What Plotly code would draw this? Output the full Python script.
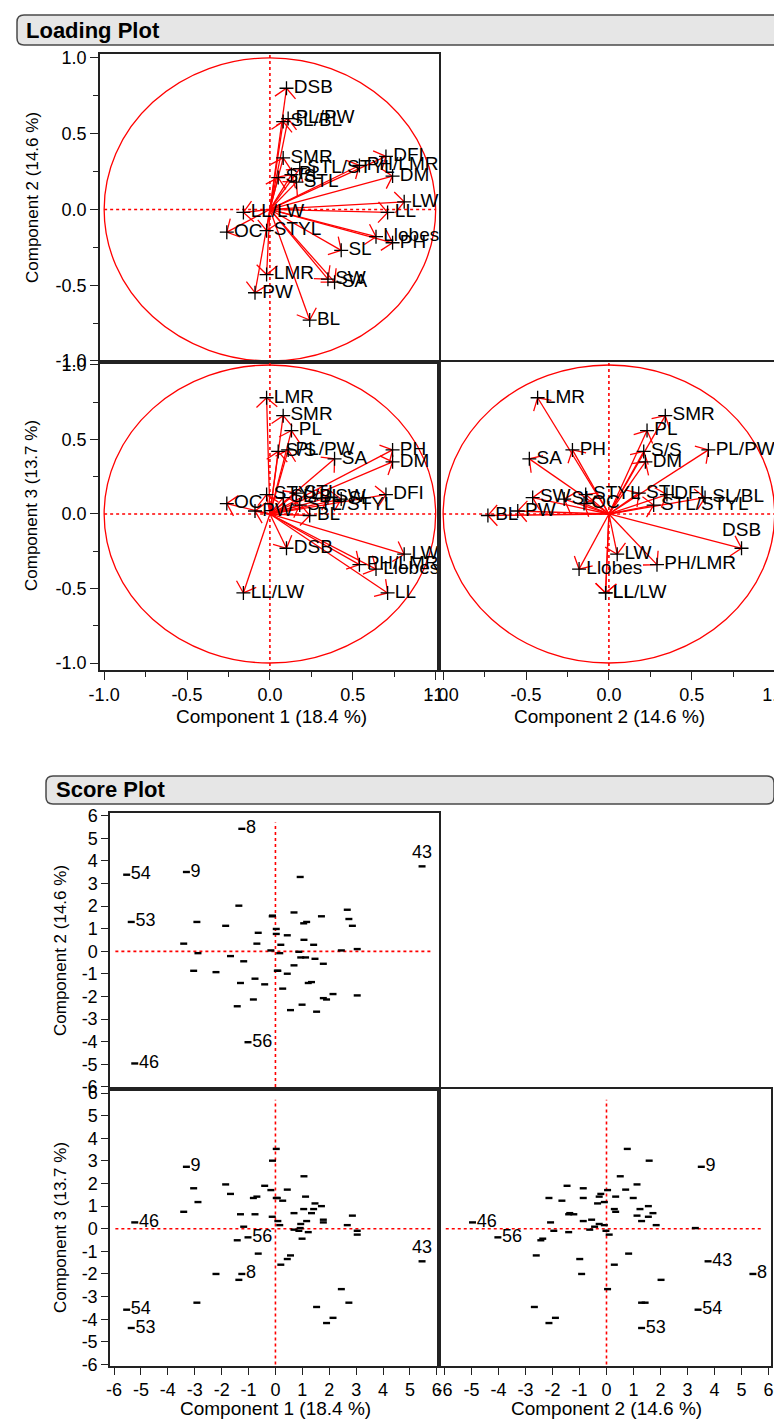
import numpy as np
import plotly.graph_objects as go

W, H = 782, 1419
FONT = "Liberation Sans, Arial, sans-serif"

# ---------------- Loading data ----------------
var_names = ["DSB", "PL/PW", "SL/BL", "SMR", "PL", "S/S", "STL", "STL/STYL", "DFI", "PH/LMR",
             "DM", "LW", "LL", "Llobes", "PH", "SL", "SW", "SA", "LMR", "PW", "BL", "LL/LW",
             "OC", "STYL"]
comp1 = [0.10, 0.11, 0.08, 0.08, 0.13, 0.05, 0.16, 0.18, 0.70, 0.54,
         0.74, 0.81, 0.71, 0.64, 0.74, 0.43, 0.35, 0.39, -0.02, -0.09, 0.24, -0.16,
         -0.26, -0.02]
comp2 = [0.80, 0.60, 0.58, 0.34, 0.23, 0.21, 0.18, 0.27, 0.35, 0.29,
         0.22, 0.05, -0.02, -0.18, -0.22, -0.27, -0.46, -0.48, -0.43, -0.55, -0.73, -0.02,
         -0.15, -0.14]
comp3 = [-0.23, 0.43, 0.11, 0.66, 0.56, 0.42, 0.14, 0.06, 0.13, -0.34,
         0.35, -0.27, -0.53, -0.37, 0.43, 0.10, 0.11, 0.37, 0.78, 0.02, -0.01, -0.53,
         0.07, 0.13]

# ---------------- Score data ----------------
score1 = [-3.41, -3.04, -2.92, -2.88, -2.21, -1.85, -1.67, -1.42, -1.36, -1.30,
          -1.18, -0.82, -0.76, -0.69, -0.64, -0.40, -0.17, -0.12, -0.11, 0.03,
          0.03, 0.09, 0.07, 0.16, 0.20, 0.27, 0.44, 0.44, 0.56, 0.69,
          0.69, 0.87, 0.92, 0.94, 0.99, 1.05, 1.06, 1.12, 1.16, 1.22,
          1.34, 1.42, 1.47, 1.53, 1.71, 1.78, 1.78, 1.90, 2.14, 2.45,
          2.67, 2.73, 2.86, 3.04, 3.04,
          -1.25, -3.31, 5.45, -5.23, -5.36, -5.53, -1.02]
score2 = [0.34, -0.86, 1.30, -0.08, -0.92, 1.13, -0.21, -2.43, 2.02, -1.40,
          -0.44, -2.13, -1.21, 0.34, 0.82, -1.46, 0.04, 1.55, 1.58, 0.99,
          0.77, -0.86, -0.86, -0.08, 0.29, -1.65, 0.71, -0.99, -2.60, 1.72,
          -0.62, -0.02, 3.29, -0.27, -2.36, 1.24, 0.51, -0.27, 1.30, -1.40,
          -1.36, 0.29, -0.33, -2.67, 1.55, -0.55, -2.07, -2.13, -1.89, 0.04,
          1.84, 1.43, 1.13, 0.10, -1.95,
          5.42, 3.51, 3.76, -4.96, 1.30, 3.39, -4.02]
score3 = [0.75, 1.79, -3.27, 1.18, -2.00, 1.96, 1.54, -0.51, -2.26, 0.64,
          0.09, 1.36, 0.64, 1.42, -1.10, 1.90, 1.71, 0.53, 3.01, 1.36,
          3.53, 0.34, 1.36, 0.16, -1.59, 1.24, 1.73, -1.34, -1.18, 0.69,
          -0.04, -0.09, 0.03, 0.21, -0.44, 0.87, 2.32, 1.42, 0.34, -0.15,
          0.69, 0.87, 1.12, -3.46, 1.00, 0.40, 0.28, -4.17, -3.94, -2.67,
          0.16, -3.27, 0.58, -0.26, -0.09,
          -2.00, 2.74, -1.44, 0.28, -4.39, -3.58, -0.38]
obs_labels = [""] * 55 + ["8", "9", "43", "46", "53", "54", "56"]

load_ticks = [-1.0, -0.5, 0.0, 0.5, 1.0]
load_ticktext = ["-1.0", "-0.5", "0.0", "0.5", "1.0"]
load_minor = [-0.75, -0.25, 0.25, 0.75]
score_ticks = list(range(-6, 7))
score_ticktext = [str(v) for v in score_ticks]

# ---------------- Geometry (pixels) ----------------
LXL, LXR = (92, 431), (431, 770)
LYT, LYB = (46, 354), (354, 662)
SXL, SXR = (102, 431), (431, 763)
SYT, SYB = (805, 1081), (1081, 1358)
L_xr = [-1.025, 1.02]
L_ytr = [-1.007, 1.026]
L_ybr = [-1.047, 1.02]
S_xlr = [-6.15, 6.08]
S_xrr = [-6.2, 6.09]
S_ytr = [-6.09, 6.12]
S_ybr = [-6.07, 6.18]


def axis(dom_px, rng, horizontal, anchor, ticks_on, tickvals=None, ticktext=None,
         minor_vals=None, ticklen=8):
    if horizontal:
        dom = [dom_px[0] / W, dom_px[1] / W]
    else:
        dom = [1 - dom_px[1] / H, 1 - dom_px[0] / H]
    d = dict(domain=dom, range=rng, anchor=anchor, showgrid=False, zeroline=False,
             showline=True, linecolor="#222", linewidth=1.5, mirror=True, fixedrange=True,
             automargin=False)
    if ticks_on:
        d.update(ticks="outside", ticklen=ticklen, tickwidth=1.3, tickcolor="#222",
                 tickmode="array", tickvals=tickvals, ticktext=ticktext,
                 tickfont=dict(family=FONT, size=18, color="black"))
        if minor_vals:
            d["minor"] = dict(tickmode="array", tickvals=minor_vals, ticks="outside",
                              ticklen=5, tickwidth=1.3, tickcolor="#222")
    else:
        d.update(ticks="", showticklabels=False)
    return d


def scale(dom_px, rng):
    return (dom_px[1] - dom_px[0]) / (rng[1] - rng[0])


def arrows(xs, ys, sx, sy, head=14.0, ang=np.radians(48)):
    X, Y = [], []
    for x, y in zip(xs, ys):
        X += [0, x, None]
        Y += [0, y, None]
        dx, dy = x * sx, y * sy
        L = np.hypot(dx, dy)
        ux, uy = -dx / L, -dy / L
        ends = []
        for a in (ang, -ang):
            bx = ux * np.cos(a) - uy * np.sin(a)
            by = ux * np.sin(a) + uy * np.cos(a)
            ends.append((x + bx * head / sx, y + by * head / sy))
        X += [ends[0][0], x, ends[1][0], None]
        Y += [ends[0][1], y, ends[1][1], None]
    return X, Y


fig = go.Figure()

RED = "#ff0000"
load_panels = [
    (comp1, comp2, "x", "y", LXL, L_xr, LYT, L_ytr, False),
    (comp1, comp3, "x2", "y2", LXL, L_xr, LYB, L_ybr, False),
    (comp2, comp3, "x3", "y3", LXR, L_xr, LYB, L_ybr, True),
]
for xs, ys, xa, ya, xd, xr, yd, yr, _ in load_panels:
    sx, sy = scale(xd, xr), scale(yd, yr)
    AX, AY = arrows(xs, ys, sx, sy)
    fig.add_trace(go.Scatter(x=AX, y=AY, xaxis=xa, yaxis=ya, mode="lines",
                             line=dict(color=RED, width=1.3), hoverinfo="skip",
                             showlegend=False, cliponaxis=True))
for xs, ys, xa, ya, xd, xr, yd, yr, right_panel in load_panels:
    pos = ["top center" if (right_panel and n == "DSB") else "middle right" for n in var_names]
    fig.add_trace(go.Scatter(x=xs, y=ys, xaxis=xa, yaxis=ya, mode="markers+text",
                             text=var_names, textposition=pos,
                             textfont=dict(family=FONT, size=19, color="black"),
                             marker=dict(symbol="cross-thin", size=10,
                                         line=dict(width=1.3, color="black")),
                             showlegend=False, cliponaxis=False))

score_panels = [
    (score1, score2, "x4", "y4", True),
    (score1, score3, "x5", "y5", True),
    (score2, score3, "x6", "y6", False),
]
for xs, ys, xa, ya, top43 in score_panels:
    pos = ["top center" if (lab == "43" and top43) else "middle right" for lab in obs_labels]
    fig.add_trace(go.Scatter(x=xs, y=ys, xaxis=xa, yaxis=ya, mode="markers+text",
                             text=obs_labels, textposition=pos,
                             textfont=dict(family=FONT, size=18, color="black"),
                             marker=dict(symbol="line-ew", size=5,
                                         line=dict(width=2.4, color="black")),
                             showlegend=False, cliponaxis=False))

layout = dict(
    width=W, height=H, margin=dict(l=0, r=0, t=0, b=0, pad=0, autoexpand=False),
    paper_bgcolor="white", plot_bgcolor="white", showlegend=False,
    xaxis=axis(LXL, L_xr, True, "y", False),
    yaxis=axis(LYT, L_ytr, False, "x", True, load_ticks, load_ticktext, load_minor),
    xaxis2=axis(LXL, L_xr, True, "y2", True, load_ticks, load_ticktext, load_minor),
    yaxis2=axis(LYB, L_ybr, False, "x2", True, load_ticks, load_ticktext, load_minor),
    xaxis3=axis(LXR, L_xr, True, "y3", True, load_ticks, load_ticktext, load_minor),
    yaxis3=axis(LYB, L_ybr, False, "x3", False),
    xaxis4=axis(SXL, S_xlr, True, "y4", False),
    yaxis4=axis(SYT, S_ytr, False, "x4", True, score_ticks, score_ticktext, ticklen=7),
    xaxis5=axis(SXL, S_xlr, True, "y5", True, score_ticks, score_ticktext, ticklen=7),
    yaxis5=axis(SYB, S_ybr, False, "x5", True, score_ticks, score_ticktext, ticklen=7),
    xaxis6=axis(SXR, S_xrr, True, "y6", True, score_ticks, score_ticktext, ticklen=7),
    yaxis6=axis(SYB, S_ybr, False, "x6", False),
)

shapes = []
dot = dict(color=RED, width=1.6, dash="dot")
for xa, ya in (("x", "y"), ("x2", "y2"), ("x3", "y3")):
    shapes.append(dict(type="circle", xref=xa, yref=ya, x0=-1, x1=1, y0=-1, y1=1,
                       line=dict(color=RED, width=1.3), layer="below"))
    shapes.append(dict(type="line", xref=xa, yref=ya, x0=-1, x1=1, y0=0, y1=0,
                       line=dot, layer="below"))
    shapes.append(dict(type="line", xref=xa, yref=ya, x0=0, x1=0, y0=-1.1, y1=1.1,
                       line=dot, layer="below"))
for xa, ya in (("x4", "y4"), ("x5", "y5"), ("x6", "y6")):
    shapes.append(dict(type="line", xref=xa, yref=ya, x0=-5.95, x1=5.8, y0=0, y1=0,
                       line=dot, layer="below"))
    shapes.append(dict(type="line", xref=xa, yref=ya, x0=0, x1=0, y0=-6.0, y1=5.7,
                       line=dot, layer="below"))


def rrect(x0, y0, x1, y1, r):
    fx = lambda v: v / W
    fy = lambda v: 1 - v / H
    pts = (f"M {fx(x0 + r)},{fy(y0)} L {fx(x1 - r)},{fy(y0)} "
           f"Q {fx(x1)},{fy(y0)} {fx(x1)},{fy(y0 + r)} L {fx(x1)},{fy(y1 - r)} "
           f"Q {fx(x1)},{fy(y1)} {fx(x1 - r)},{fy(y1)} L {fx(x0 + r)},{fy(y1)} "
           f"Q {fx(x0)},{fy(y1)} {fx(x0)},{fy(y1 - r)} L {fx(x0)},{fy(y0 + r)} "
           f"Q {fx(x0)},{fy(y0)} {fx(x0 + r)},{fy(y0)} Z")
    return dict(type="path", xref="paper", yref="paper", path=pts,
                fillcolor="#e6e6e6", line=dict(color="#4a4a4a", width=1.5), layer="below")


shapes.append(rrect(9, 7, 776, 37, 7))
shapes.append(rrect(38, 768, 766, 796, 7))
layout["shapes"] = shapes


def ann(text, px, py, size=19, bold=False, angle=0, xanchor="center"):
    return dict(text=f"<b>{text}</b>" if bold else text, x=px / W, y=1 - py / H,
                xref="paper", yref="paper", showarrow=False, textangle=angle,
                xanchor=xanchor, yanchor="middle",
                font=dict(family=FONT, size=size, color="black"))


layout["annotations"] = [
    ann("Loading Plot", 16, 22, size=22, bold=True, xanchor="left"),
    ann("Score Plot", 46, 782, size=22, bold=True, xanchor="left"),
    ann("Component 2 (14.6 %)", 24, 190, size=17, angle=-90),
    ann("Component 3 (13.7 %)", 24, 498, size=17, angle=-90),
    ann("Component 1 (18.4 %)", 263, 708),
    ann("Component 2 (14.6 %)", 601, 708),
    ann("Component 2 (14.6 %)", 52, 943, size=17, angle=-90),
    ann("Component 3 (13.7 %)", 52, 1220, size=17, angle=-90),
    ann("Component 1 (18.4 %)", 267, 1400),
    ann("Component 2 (14.6 %)", 598, 1400),
]

fig.update_layout(**layout)
fig.write_html("out.html")
